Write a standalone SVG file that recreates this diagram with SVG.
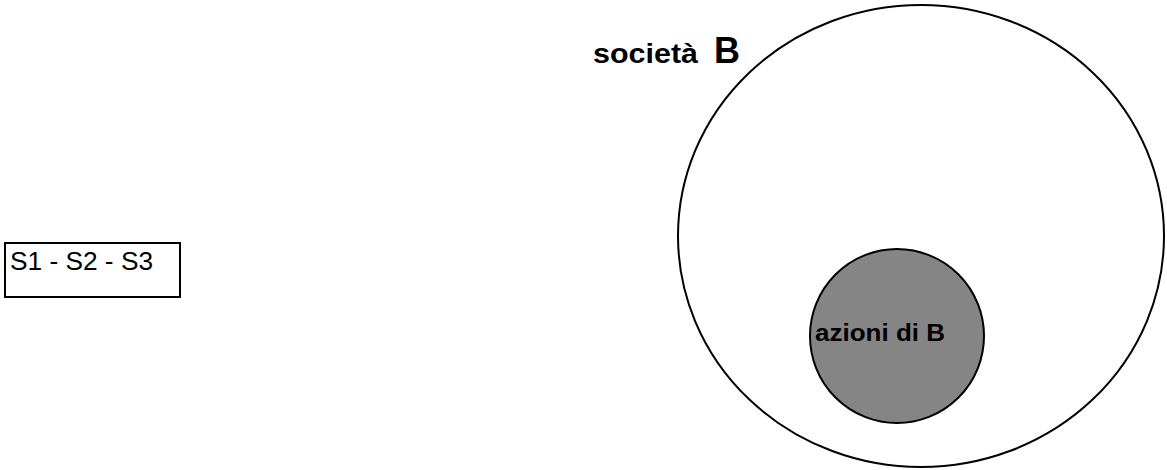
<svg xmlns="http://www.w3.org/2000/svg" width="1167" height="470" viewBox="0 0 1167 470">
<style>
.t{font-family:"Liberation Sans",Arial,sans-serif;fill:#000}
.b{font-weight:bold}
.line{fill:none;stroke:#000;stroke-width:2}
</style>
<rect width="1167" height="470" fill="#fff"/>
<g id="box">
<rect x="5" y="243" width="175" height="54" class="line"/>
<text class="t" x="10" y="270" font-size="26" textLength="143" lengthAdjust="spacingAndGlyphs">S1 - S2 - S3</text>
</g>
<g id="societa">
<ellipse cx="921" cy="236" rx="243" ry="231" class="line"/>
<text class="t b" x="593" y="63" font-size="27" textLength="105" lengthAdjust="spacingAndGlyphs">società</text>
<text class="t b" x="714" y="63" font-size="36">B</text>
</g>
<g id="azioni">
<circle cx="897" cy="336" r="87" fill="#858585" stroke="#000" stroke-width="2"/>
<text class="t b" x="815" y="341" font-size="24" textLength="130" lengthAdjust="spacingAndGlyphs">azioni di B</text>
</g>
<g id="connectors"></g>
</svg>
